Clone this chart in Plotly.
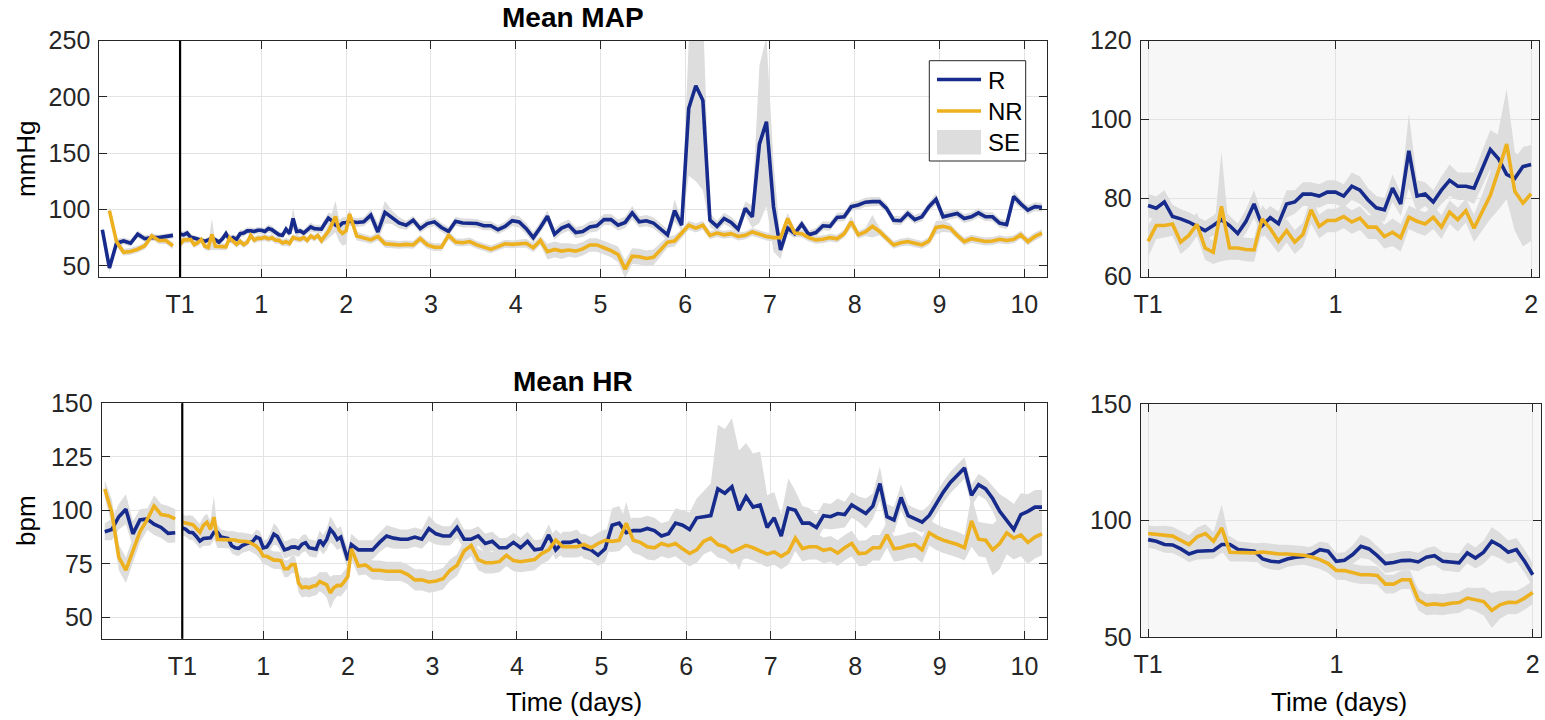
import plotly.graph_objects as go

# ---------------- sample grid (hours since T0; T1 = 1 h) ----------------
T1 = 1 / 24
hours_pre = list(range(-21, 0, 2))      # before T1 (2-hourly)
hours_zoom = list(range(1, 49))         # T1 .. day 2 (hourly)
hours_late = list(range(49, 246, 2))    # day 2 .. end (2-hourly)

x_ticks_left = [T1, 1, 2, 3, 4, 5, 6, 7, 8, 9, 10]
x_text_left = ["T1", "1", "2", "3", "4", "5", "6", "7", "8", "9", "10"]
x_ticks_right = [T1, 1, 2]
x_text_right = ["T1", "1", "2"]
legend_labels = ["R", "NR", "SE"]

# ---------------- MAP (mmHg) ----------------
map_r_pre = [82, 48, 70, 72, 70, 78, 74, 75, 75, 76, 77]
map_nr_pre = [None, 99, 71.5, 62, 62.7, 64.7, 67.7, 76.5, 72.4, 72.4, 67.7]
map_r_se_pre = [3, 4, 4, 3, 3, 3, 3, 3, 2.5, 2.5, 2.5]
map_nr_se_pre = [None, 4, 4, 3, 3, 3, 3, 3, 3, 3, 3]

map_r_zoom = [78.1, 77.4, 79.0, 75.3, 74.7, 73.9, 72.8, 71.7, 73.0, 74.5,
              73.0, 71.0, 74.0, 78.5, 73.0, 75.0, 73.5, 78.5, 79.0, 81.0,
              81.0, 80.5, 81.5, 81.5, 80.5, 83.0, 82.0, 79.5, 77.5, 77.0,
              82.5, 78.5, 92.0, 80.5, 81.0, 79.0, 82.0, 84.5, 83.0, 83.0,
              82.5, 87.5, 92.3, 90.0, 86.0, 85.0, 88.0, 88.5]
map_nr_zoom = [69, 73, 73, 73.4, 68.8, 70.5, 73.3, 67.3, 66.2, 77.9,
               67.3, 67.3, 66.9, 66.8, 74.7, 72.2, 69, 71.7, 68.8, 70.7,
               77, 72.8, 74.3, 74.3, 75.3, 73.9, 74.9, 72.6, 72.6, 70.2,
               71.3, 69.9, 75.1, 74.1, 73.4, 75.1, 72.6, 76.4, 74.5, 76.8,
               72.3, 76.4, 80.7, 87, 93.7, 81.7, 78.7, 81.1]
map_r_se_zoom = [3, 3, 3, 3, 2.5, 2.5, 2.5, 2.5, 2.5, 3,
                 2.5, 2.5, 3, 3.5, 3, 3, 3, 3.5, 3, 3,
                 3, 3, 3, 3, 3, 3.5, 3.5, 3, 3, 3,
                 3.5, 3, 9.5, 4, 3, 3, 3.5, 4, 3.5, 3.5,
                 4, 4.5, 5, 6, 5, 5, 5, 5]
map_nr_se_zoom = [4, 3.5, 3, 3, 3, 3, 3, 3, 3, 14,
                  3, 3, 3, 3, 3.5, 3.5, 3, 3, 3, 3,
                  3.5, 3, 3, 3, 3, 3, 3, 3, 3, 3,
                  3.5, 3.5, 3, 3, 3, 3, 3, 3, 3, 3,
                  3.5, 4.5, 6, 10, 14, 10, 11, 12]

map_r_late = [89.5, 88.5, 89, 95, 80, 97.5, 93, 88, 86, 90.5,
              83, 87.5, 89, 84, 80.5, 89.5, 88, 88, 87.5, 85.5,
              85.5, 82, 85, 90, 89, 83, 75, 84, 94, 78,
              83.5, 86, 79.5, 80.5, 84.5,
              85.5, 91, 91, 86, 88.5, 97, 89, 90, 88, 83,
              77.5, 99, 86, 190, 210, 197, 90.5, 85, 92, 88.5,
              82.5, 101, 93.5, 158, 178, 102.5, 64, 83.5, 78.5, 87,
              77.5, 79.5, 85.5, 85, 93, 93.5, 102.5, 104, 106.5, 107,
              107, 101, 90.5, 90, 96.5, 91, 93.5, 102.5, 109, 93.5,
              95, 96.5, 92, 93.5, 97, 93.5, 93.5, 88, 86.5, 111.5,
              105, 99.5, 102.5, 102]
map_nr_late = [96, 76.5, 74.5, 73, 76, 69.5, 69, 68.5, 69, 68.5,
               74, 68.5, 66.5, 66.5, 77, 71, 70.5, 71.5, 68.5, 66.5,
               64.5, 67, 69.5, 69, 69.5, 70, 66, 72.5, 62.5, 64.5,
               63, 64, 63, 65, 68.5,
               68.5, 66, 63.5, 60, 47, 58.5, 58, 56.5, 57.5, 64,
               71, 72, 78.5, 86, 83.5, 86, 77, 79, 77.5, 78.5,
               76, 77, 80, 78, 76, 75, 75, 92, 79, 78.5,
               75, 73, 73.5, 75, 74, 78.5, 89, 77.5, 80, 85,
               80.5, 74.5, 68.5, 70.5, 71.5, 70, 68.5, 72, 84, 85,
               83.5, 77, 71.5, 74, 73, 71.5, 72, 73.5, 72.5, 73.5,
               77.5, 71.5, 76, 79]
map_r_se_late = [4, 4, 4, 5, 8, 10, 6, 5, 4, 4,
                 4, 4, 4, 4, 4, 4, 4, 4, 4, 4,
                 4, 4, 4, 5, 5, 5, 5, 5, 5, 5,
                 5, 5, 5, 5, 5,
                 5, 5, 5, 5, 5, 6, 5, 5, 5, 5,
                 5, 10, 5, 60, 85, 80, 6, 5, 5, 5,
                 5, 6, 10, 70, 75, 40, 8, 5, 4, 4,
                 4, 4, 4, 4, 4, 4, 4, 4, 4, 4,
                 4, 4, 4, 4, 4, 4, 4, 4, 5, 5,
                 4, 4, 4, 4, 4, 4, 4, 4, 4, 5,
                 4, 4, 4, 4]
map_nr_se_late = [4, 4, 3.5, 3.5, 3.5, 3.5, 3.5, 3.5, 3.5, 3.5,
                  3.5, 3.5, 3.5, 3.5, 4, 3.5, 3.5, 3.5, 3.5, 3.5,
                  3.5, 3.5, 3.5, 3.5, 3.5, 4, 4, 4, 7, 7,
                  7, 6, 6, 6, 6,
                  6, 6, 6, 7, 8, 7, 7, 7, 7, 6,
                  5, 5, 4, 4, 4, 4, 3.5, 3.5, 3.5, 3.5,
                  3.5, 3.5, 3.5, 3.5, 3.5, 3.5, 3.5, 5, 3.5, 3.5,
                  3.5, 3.5, 3.5, 3.5, 3.5, 3.5, 5, 3.5, 3.5, 10,
                  3.5, 3.5, 3.5, 3.5, 3.5, 3.5, 3.5, 3.5, 6, 5,
                  4, 3.5, 3.5, 3.5, 3.5, 3.5, 3.5, 3.5, 3.5, 3.5,
                  3.5, 3.5, 3.5, 3.5]

# ---------------- HR (bpm) ----------------
hr_r_pre = [90, 91, 97, 100.5, 89, 95.5, 96, 93.5, 92, 89.2, 89.5]
hr_nr_pre = [110, 99, 78, 72, 81, 90, 95.5, 102, 98, 97.5, 96]
hr_r_se_pre = [4, 5, 6, 7, 6, 5, 5, 5, 5, 4.5, 4.5]
hr_nr_se_pre = [4, 6, 6, 6, 6, 5, 5, 5, 5, 4.5, 4.5]

hr_r_zoom = [91.8, 91.1, 89.7, 89.5, 87.8, 85.6, 86.8, 86.8, 87.1, 89.7,
             89.7, 87.5, 87.2, 86.8, 83.5, 82.5, 82.2, 83.5, 84.2, 84.6,
             85.4, 87.5, 86.8, 82.5, 82.9, 85.4, 88.9, 87.8, 84.9, 81.5,
             82.0, 82.8, 82.9, 82.2, 84.2, 84.9, 82.5, 82.0, 81.8, 86.1,
             83.9, 86.4, 91.1, 89.2, 86.4, 87.5, 82.5, 76.7]
hr_nr_zoom = [94.4, 94.0, 93.7, 93.3, 91.5, 89.7, 93.0, 94.4, 91.1, 96.8,
              86.4, 86.4, 86.4, 86.1, 86.5, 86.1, 85.6, 85.6, 85.4, 85.1,
              84.3, 83.2, 81.5, 78.6, 78.5, 77.4, 76.7, 76.7, 76.4, 72.7,
              72.7, 74.6, 74.6, 66.0, 63.8, 64.2, 63.8, 64.5, 64.8, 66.7,
              66.0, 65.2, 61.4, 63.8, 64.9, 64.8, 66.7, 69.1]
hr_r_se_zoom = [3.5, 3.5, 3.5, 3.5, 3.5, 3.5, 3.5, 3.5, 3.5, 3.5,
                3.5, 3.5, 3.5, 3.5, 3.5, 3.5, 3.5, 3.5, 3.5, 3.5,
                3.5, 3.5, 3.5, 3.5, 3.5, 4, 5, 4.5, 4, 4,
                4, 4, 4, 4, 4, 4, 4, 4, 4, 4.5,
                4.5, 5, 6, 5.5, 5, 5, 5, 5]
hr_nr_se_zoom = [3.5, 3.5, 4, 4, 4, 4, 4, 4, 4, 10,
                 4, 4, 4, 4, 4, 4, 4, 4, 4, 4,
                 4, 4, 4, 4, 4, 4, 4, 4, 4, 4,
                 4, 4, 4, 4.5, 4.5, 4.5, 4.5, 4.5, 4.5, 4.5,
                 5, 6, 7.5, 6, 5, 5, 5, 5]

hr_r_late = [84, 81.5, 81.5, 81.5, 85, 88, 87, 86.5, 86.5, 87.5,
             86.5, 91.5, 89, 88, 88, 92, 86.5, 86.5, 88, 84.5,
             85.5, 82.5, 82.5, 85, 82.5, 85.5, 81.5, 82, 88.5, 81.5,
             85, 85, 86, 82.5, 81.5,
             79, 82, 93, 94, 89.5, 90.5, 90.5, 91.5, 90.5, 88,
             89, 94, 93, 91, 96.5, 97, 97.5, 110, 108, 111,
             100, 106.4, 101.5, 102.5, 92, 96.5, 88, 101, 100, 94,
             94, 92, 97.5, 97, 98.5, 98, 102.5, 100.5, 98.5, 102,
             112.5, 97, 95.5, 106, 97.5, 96, 94.5, 97.6, 103, 108.5,
             113, 116.5, 119.8, 107, 112, 110, 105.5, 99.5, 95.5, 91,
             98, 99.5, 101.5, 101.5]
hr_nr_late = [82, 74, 74.5, 72, 72, 71.5, 71.5, 71.5, 70, 67.5,
              67.5, 66.5, 67, 68, 72, 74.3, 81, 83.5, 77, 75.5,
              75.5, 76, 79, 76.5, 76, 76.5, 77, 79.8, 81.5, 86,
              83, 83, 83, 84, 82.5,
              84.5, 86, 85.5, 86, 94, 86, 85, 83, 82.5, 84.5,
              83.5, 84.5, 82, 79.8, 81.5, 85.5, 87, 84, 83, 80.5,
              82, 83.6, 82.5, 81, 79.5, 80.5, 78.5, 80.5, 87, 82.1,
              83, 83, 81.3, 82, 80, 82.5, 84.5, 79.8, 80, 82.5,
              82.5, 88.5, 82, 82.5, 83.5, 84, 81.5, 89.5, 87.5, 86,
              85, 84, 82.5, 95, 86.5, 86, 81.5, 84.5, 89.5, 87,
              88.5, 85, 87.5, 89]
hr_r_se_late = [5, 4.5, 4.5, 4.5, 4.5, 5, 5, 4.5, 4.5, 4.5,
                4.5, 6, 5, 4.5, 4.5, 5, 4.5, 4.5, 4.5, 4.5,
                4.5, 4.5, 4.5, 4.5, 4.5, 4.5, 4.5, 4.5, 5, 4.5,
                5, 5, 5, 5, 5,
                5, 6, 8, 8, 6, 6, 6, 6, 6, 6,
                6, 7, 7, 8, 9, 12, 15, 30, 30, 32,
                28, 25, 25, 25, 15, 12, 10, 14, 9, 8,
                7, 6, 6, 6, 7, 6, 6, 6, 7, 6,
                8, 6, 6, 6, 5, 5, 5, 5, 5, 5,
                5, 5, 5, 5, 5, 5, 6, 8, 10, 12,
                10, 8, 8, 8]
hr_nr_se_late = [5, 4.5, 4.5, 4.5, 4.5, 4.5, 4.5, 4.5, 4.5, 5,
                 5, 5, 5, 5, 5, 5, 5, 5, 5, 5,
                 5, 5, 5, 5, 5, 5, 5, 5, 5, 5,
                 5, 5, 5, 5, 5,
                 5, 5, 5, 5, 10, 6, 6, 6, 6, 6,
                 6, 6, 6, 6, 6, 6, 6, 6, 6, 6,
                 6, 6, 6, 6, 6, 6, 6, 6, 6, 6,
                 6, 6, 6, 6, 6, 6, 6, 6, 6, 6,
                 6, 6, 6, 6, 6, 6, 6, 6, 6, 6,
                 6, 6, 6, 12, 8, 8, 12, 12, 10, 10,
                 10, 10, 10, 10]

# ---------------- style ----------------
BLUE = "#162b8b"
ORANGE = "#edb120"
SE_COL = "rgb(221,221,221)"
FONT = "Liberation Sans, Arial, sans-serif"
AX = "#262626"
W, H = 1545, 720
LW = 3.6


def days(hours):
    return [h / 24 for h in hours]


def band_xy(x, y, se):
    pts = [(a, b, s) for a, b, s in zip(x, y, se) if b is not None and s is not None]
    xs = [p[0] for p in pts]
    up = [p[1] + p[2] for p in pts]
    lo = [p[1] - p[2] for p in pts]
    return xs + xs[::-1], up + lo[::-1]


fig = go.Figure()

panels = [
    ("x", "y", [(hours_pre, map_r_pre, map_nr_pre, map_r_se_pre, map_nr_se_pre),
                (hours_zoom + hours_late, map_r_zoom + map_r_late, map_nr_zoom + map_nr_late,
                 map_r_se_zoom + map_r_se_late, map_nr_se_zoom + map_nr_se_late)]),
    ("x2", "y2", [(hours_zoom, map_r_zoom, map_nr_zoom, map_r_se_zoom, map_nr_se_zoom)]),
    ("x3", "y3", [(hours_pre, hr_r_pre, hr_nr_pre, hr_r_se_pre, hr_nr_se_pre),
                  (hours_zoom + hours_late, hr_r_zoom + hr_r_late, hr_nr_zoom + hr_nr_late,
                   hr_r_se_zoom + hr_r_se_late, hr_nr_se_zoom + hr_nr_se_late)]),
    ("x4", "y4", [(hours_zoom, hr_r_zoom, hr_nr_zoom, hr_r_se_zoom, hr_nr_se_zoom)]),
]

for xa, ya, segs in panels:
    for hrs, r, nr, rse, nrse in segs:
        xd = days(hrs)
        for yv, sv in ((r, rse), (nr, nrse)):
            bx, by = band_xy(xd, yv, sv)
            fig.add_trace(go.Scatter(
                x=bx, y=by, xaxis=xa, yaxis=ya, mode="lines", fill="toself",
                fillcolor=SE_COL, line=dict(width=0, color=SE_COL), hoverinfo="skip",
                name="SE", showlegend=False))
    for name, idx, col in (("R", 1, BLUE), ("NR", 2, ORANGE)):
        xs, ys = [], []
        for seg in segs:
            if xs:
                xs.append(None)
                ys.append(None)
            xs += days(seg[0])
            ys += seg[idx]
        fig.add_trace(go.Scatter(
            x=xs, y=ys, xaxis=xa, yaxis=ya, mode="lines", name=name,
            line=dict(color=col, width=LW), connectgaps=False, showlegend=False))


def px_dom_x(a, b):
    return [a / W, b / W]


def px_dom_y(top, bottom):
    return [1 - bottom / H, 1 - top / H]


axis_base = dict(
    showline=True, linecolor=AX, linewidth=1, mirror="ticks",
    ticks="inside", ticklen=8, tickwidth=1, tickcolor=AX,
    showgrid=True, gridcolor="#e3e3e3", gridwidth=1, zeroline=False,
    automargin=False,
    tickfont=dict(family=FONT, size=25, color=AX),
)

x_left_range = [-0.911, 10.264]
x_right_range = [0.004, 2.042]

fig.update_layout(
    width=W, height=H,
    margin=dict(l=0, r=0, t=0, b=0, pad=0),
    paper_bgcolor="white", plot_bgcolor="white",
    showlegend=False,
    xaxis=dict(axis_base, domain=px_dom_x(99.3, 1046.7), range=x_left_range,
               tickvals=x_ticks_left, ticktext=x_text_left, anchor="y",
               ticklabelstandoff=5),
    yaxis=dict(axis_base, domain=px_dom_y(40.7, 277), range=[40, 250],
               tickvals=[50, 100, 150, 200, 250], anchor="x", ticklabelstandoff=3),
    xaxis2=dict(axis_base, domain=px_dom_x(1140.7, 1539.3), range=x_right_range,
                tickvals=x_ticks_right, ticktext=x_text_right, anchor="y2",
                ticklabelstandoff=5),
    yaxis2=dict(axis_base, domain=px_dom_y(40.7, 276.7), range=[60, 120],
                tickvals=[60, 80, 100, 120], anchor="x2", ticklabelstandoff=3),
    xaxis3=dict(axis_base, domain=px_dom_x(101.7, 1046.7), range=x_left_range,
                tickvals=x_ticks_left, ticktext=x_text_left, anchor="y3",
                ticklabelstandoff=5),
    yaxis3=dict(axis_base, domain=px_dom_y(403.3, 638.7), range=[40, 150],
                tickvals=[50, 75, 100, 125, 150], anchor="x3", ticklabelstandoff=3),
    xaxis4=dict(axis_base, domain=px_dom_x(1140.7, 1541), range=x_right_range,
                tickvals=x_ticks_right, ticktext=x_text_right, anchor="y4",
                ticklabelstandoff=5),
    yaxis4=dict(axis_base, domain=px_dom_y(404, 637), range=[50, 150],
                tickvals=[50, 100, 150], anchor="x4", ticklabelstandoff=3),
)

# light background of the zoom panels
for xa, ya in (("x2", "y2"), ("x4", "y4")):
    fig.add_shape(type="rect", xref=f"{xa} domain", yref=f"{ya} domain",
                  x0=0, x1=1, y0=0, y1=1, fillcolor="#f7f7f7",
                  line=dict(width=0), layer="below")

# T1 marker lines on the full-length panels
for xa, ya in (("x", "y"), ("x3", "y3")):
    fig.add_shape(type="line", xref=xa, yref=f"{ya} domain",
                  x0=T1, x1=T1, y0=0, y1=1, line=dict(color="black", width=2.2))


# ---- legend box (inside the MAP panel), drawn in paper pixels ----
def px(xp):
    return xp / W


def py(yp):
    return 1 - yp / H


fig.add_shape(type="rect", xref="paper", yref="paper",
              x0=px(929.3), x1=px(1025.7), y0=py(161), y1=py(60.7),
              fillcolor="white", line=dict(color=AX, width=1))
fig.add_shape(type="line", xref="paper", yref="paper",
              x0=px(937), x1=px(981), y0=py(79.5), y1=py(79.5),
              line=dict(color=BLUE, width=LW))
fig.add_shape(type="line", xref="paper", yref="paper",
              x0=px(937), x1=px(981), y0=py(111), y1=py(111),
              line=dict(color=ORANGE, width=LW))
fig.add_shape(type="rect", xref="paper", yref="paper",
              x0=px(937), x1=px(981), y0=py(154.5), y1=py(130),
              fillcolor=SE_COL, line=dict(width=0))
for lab, yy in zip(legend_labels, (80, 111.5, 142.5)):
    fig.add_annotation(text=lab, x=px(986), y=py(yy), xref="paper", yref="paper",
                       showarrow=False, xanchor="left", yanchor="middle",
                       font=dict(family=FONT, size=24, color="black"))

ann = []
ann.append(dict(text="<b>Mean MAP</b>", x=573 / W, y=1 - 17 / H, font_size=28))
ann.append(dict(text="<b>Mean HR</b>", x=573 / W, y=1 - 381 / H, font_size=28))
ann.append(dict(text="mmHg", x=26 / W, y=1 - 159 / H, font_size=26, textangle=-90))
ann.append(dict(text="bpm", x=26 / W, y=1 - 521 / H, font_size=26, textangle=-90))
ann.append(dict(text="Time (days)", x=574 / W, y=1 - 702 / H, font_size=26))
ann.append(dict(text="Time (days)", x=1339 / W, y=1 - 702 / H, font_size=26))
for a in ann:
    fs = a.pop("font_size")
    fig.add_annotation(**a, xref="paper", yref="paper", showarrow=False,
                       xanchor="center", yanchor="middle",
                       font=dict(family=FONT, size=fs, color="black"))

fig.write_html("out.html",
               post_script="document.body.style.margin='0';"
                           "document.body.style.overflow='hidden';")
